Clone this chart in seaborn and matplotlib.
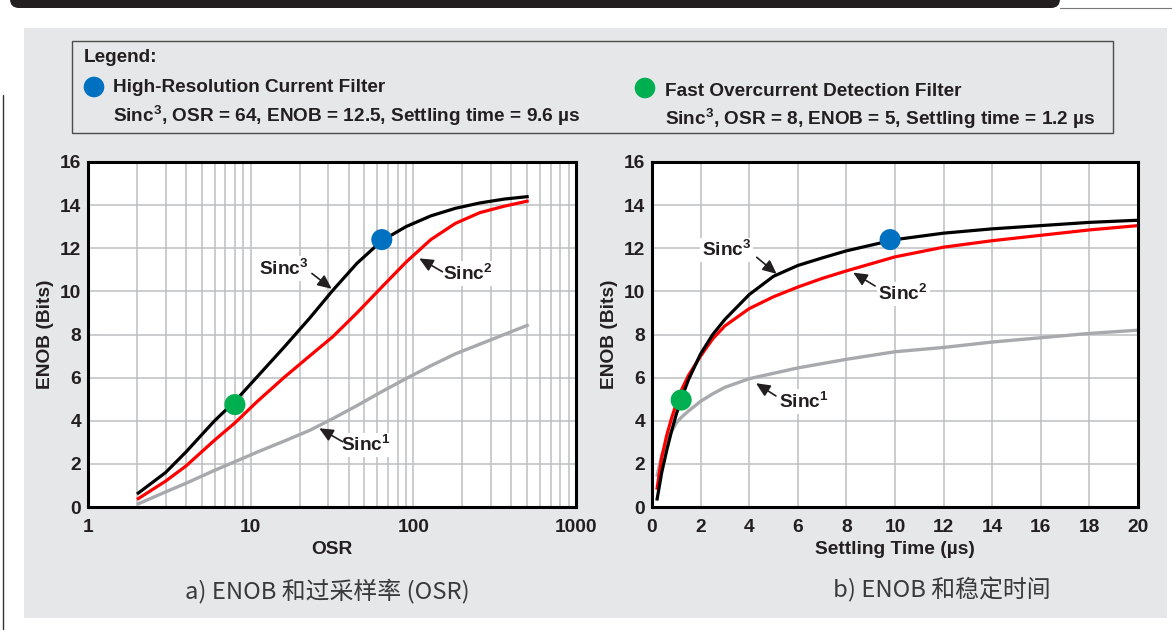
import numpy as np
import pandas as pd
import matplotlib
matplotlib.use("Agg")
import matplotlib.pyplot as plt
from matplotlib.patches import Rectangle, FancyBboxPatch
import seaborn as sns

# ---- data ----
osr = [2, 3, 4, 6, 8, 11, 16, 23, 32, 45, 64, 90, 128, 181, 256, 362, 512]
osr_sinc3 = [0.6, 1.6, 2.55, 4.0, 4.9, 6.05, 7.4, 8.75, 10.05, 11.3, 12.35, 13.0, 13.5, 13.85, 14.1, 14.28, 14.4]
osr_sinc2 = [0.35, 1.2, 1.9, 3.1, 3.9, 4.9, 6.0, 7.0, 7.9, 9.0, 10.2, 11.35, 12.4, 13.15, 13.65, 13.95, 14.2]
osr_sinc1 = [0.12, 0.7, 1.1, 1.7, 2.1, 2.55, 3.05, 3.55, 4.1, 4.7, 5.35, 5.95, 6.55, 7.1, 7.55, 8.0, 8.45]

t_settle = [0.2, 0.4, 0.6, 0.8, 1.0, 1.2, 1.5, 2, 2.5, 3, 4, 5, 6, 7, 8, 10, 12, 14, 16, 18, 20]
t_sinc3 = [0.3, 1.6, 2.6, 3.5, 4.3, 5.0, 5.9, 7.1, 8.0, 8.7, 9.85, 10.7, 11.2, 11.55, 11.88, 12.4, 12.7, 12.9, 13.05, 13.2, 13.3]
t_sinc2 = [0.8, 2.3, 3.3, 4.1, 4.8, 5.4, 6.1, 7.0, 7.8, 8.4, 9.2, 9.75, 10.2, 10.6, 10.95, 11.6, 12.05, 12.35, 12.6, 12.85, 13.05]
t_sinc1 = [1.4, 2.4, 3.0, 3.5, 3.9, 4.15, 4.45, 4.9, 5.25, 5.55, 5.95, 6.2, 6.45, 6.65, 6.85, 7.2, 7.4, 7.65, 7.85, 8.05, 8.2]

# operating points (blue = high-res, green = fast overcurrent)
osr_points = [64, 8]
osr_points_enob = [12.4, 4.75]
t_points = [9.8, 1.2]
t_points_enob = [12.4, 4.96]
point_colors = ["#0070c0", "#00b050"]

W, H = 1172, 630
PANEL = "#e6e7e8"
INK = "#231f20"
GRID = "#bcbec0"
FS = 13.8

sns.set_theme(style="white")
plt.rcParams["font.family"] = ["Liberation Sans", "DejaVu Sans"]
plt.rcParams["mathtext.fontset"] = "custom"
plt.rcParams["mathtext.rm"] = "Liberation Sans"
plt.rcParams["mathtext.bf"] = "Liberation Sans:bold"

fig = plt.figure(figsize=(W / 100, H / 100), dpi=100)
fig.patch.set_facecolor("white")

# background drawing layer in pixel coordinates
bg = fig.add_axes([0, 0, 1, 1], zorder=-1)
bg.set_xlim(0, W)
bg.set_ylim(H, 0)
bg.axis("off")
bg.add_patch(FancyBboxPatch((10, -30), 1050, 38, boxstyle="round,pad=0,rounding_size=9",
                            facecolor=INK, edgecolor="none"))
bg.plot([1060, W], [7.5, 7.5], color="#777777", lw=0.8)
bg.plot([3, 3], [95, H], color="#333333", lw=1)
bg.add_patch(Rectangle((24, 28), 1143, 590, facecolor=PANEL, edgecolor="none"))
bg.add_patch(Rectangle((72, 41), 1041, 92, facecolor="none", edgecolor="#4d4d4d", lw=1))

legend_font = dict(fontsize=13.7, fontweight="bold", color=INK, va="center", ha="left")
bg.text(84, 57, "Legend:", **legend_font)
bg.scatter([94], [87], s=220, color=point_colors[0], edgecolor="none")
bg.text(113, 88, "High-Resolution Current Filter", **legend_font)
bg.text(113, 116, r"Sinc$^{\mathbf{3}}$, OSR = 64, ENOB = 12.5, Settling time = 9.6 µs", **legend_font)
bg.scatter([645], [88], s=220, color=point_colors[1], edgecolor="none")
bg.text(665, 92, "Fast Overcurrent Detection Filter", **legend_font)
bg.text(665, 119, r"Sinc$^{\mathbf{3}}$, OSR = 8, ENOB = 5, Settling time = 1.2 µs", **legend_font)

caption_font = dict(fontsize=17.2, color="#3a3a3a", ha="center", va="center",
                    family=["Noto Sans CJK SC", "DejaVu Sans"])
bg.text(327, 591, "a) ENOB 和过采样率 (OSR)", **caption_font)
bg.text(942, 590, "b) ENOB 和稳定时间", **caption_font)

bottom = (H - 507) / H
height = (507 - 162) / H
ax1 = fig.add_axes([88 / W, bottom, (576 - 88) / W, height])
ax2 = fig.add_axes([652 / W, bottom, (1138 - 652) / W, height])


def style_axes(ax):
    ax.set_facecolor("white")
    for sp in ax.spines.values():
        sp.set_color("black")
        sp.set_linewidth(2.2)
        sp.set_zorder(5)
    ax.tick_params(axis="both", which="both", length=0, labelsize=FS, colors=INK)
    ax.tick_params(axis="x", pad=9)
    ax.tick_params(axis="y", pad=5)
    for lab in ax.get_xticklabels() + ax.get_yticklabels():
        lab.set_fontweight("bold")
    ax.set_ylim(0, 16)
    ax.set_yticks(range(0, 17, 2))
    ax.set_ylabel("ENOB (Bits)", fontsize=FS, fontweight="bold", color=INK, labelpad=4)


def draw_curves(ax, x, s3, s2, s1):
    df = pd.DataFrame({"x": x, "Sinc1": s1, "Sinc2": s2, "Sinc3": s3})
    kw = dict(ax=ax, estimator=None, solid_joinstyle="round", solid_capstyle="butt")
    sns.lineplot(data=df, x="x", y="Sinc1", color="#a7a9ac", lw=2.4, **kw)
    sns.lineplot(data=df, x="x", y="Sinc2", color="#ff0000", lw=2.3, **kw)
    sns.lineplot(data=df, x="x", y="Sinc3", color="black", lw=2.3, **kw)


arrow = dict(arrowstyle="-|>,head_length=0.7,head_width=0.32", color=INK, lw=1.2,
             shrinkA=0, shrinkB=0)
note_font = dict(fontsize=FS, fontweight="bold", color=INK, ha="center", va="center",
                 bbox=dict(boxstyle="square,pad=0.1", facecolor="white", edgecolor="none"))
S1 = r"Sinc$^{\mathbf{1}}$"
S2 = r"Sinc$^{\mathbf{2}}$"
S3 = r"Sinc$^{\mathbf{3}}$"

# ---- left: ENOB vs OSR ----
ax1.set_xscale("log")
draw_curves(ax1, osr, osr_sinc3, osr_sinc2, osr_sinc1)
sns.scatterplot(x=osr_points, y=osr_points_enob, ax=ax1, hue=[0, 1], palette=point_colors,
                s=230, edgecolor="none", legend=False, zorder=6)
ax1.set_xlim(1, 1000)
ax1.set_xticks([1, 10, 100, 1000], labels=["1", "10", "100", "1000"])
ax1.grid(True, which="both", axis="x", color=GRID, lw=1.1)
ax1.grid(True, which="major", axis="y", color=GRID, lw=1.1)
ax1.set_xlabel("OSR", fontsize=FS, fontweight="bold", color=INK, labelpad=3)
style_axes(ax1)
ax1.annotate("", xy=(31.5, 10.12), xytext=(23.8, 10.83), arrowprops=arrow, zorder=7)
ax1.text(15.9, 11.05, S3, **note_font)
ax1.annotate("", xy=(108.7, 11.53), xytext=(151, 10.91), arrowprops=arrow, zorder=7)
ax1.text(215, 10.84, S2, **note_font)
ax1.annotate("", xy=(26.4, 3.65), xytext=(36.7, 3.03), arrowprops=arrow, zorder=7)
ax1.text(50.9, 2.88, S1, **note_font)

# ---- right: ENOB vs settling time ----
draw_curves(ax2, t_settle, t_sinc3, t_sinc2, t_sinc1)
sns.scatterplot(x=t_points, y=t_points_enob, ax=ax2, hue=[0, 1], palette=point_colors,
                s=230, edgecolor="none", legend=False, zorder=6)
ax2.set_xlim(0, 20)
ax2.set_xticks(range(0, 21, 2))
ax2.grid(True, which="major", color=GRID, lw=1.1)
ax2.set_xlabel("Settling Time (µs)", fontsize=FS, fontweight="bold", color=INK, labelpad=3)
style_axes(ax2)
ax2.annotate("", xy=(5.13, 10.81), xytext=(4.31, 11.58), arrowprops=arrow, zorder=7)
ax2.text(3.07, 11.92, S3, **note_font)
ax2.annotate("", xy=(8.28, 10.87), xytext=(9.18, 10.25), arrowprops=arrow, zorder=7)
ax2.text(10.34, 9.88, S2, **note_font)
ax2.annotate("", xy=(4.28, 5.74), xytext=(5.10, 5.15), arrowprops=arrow, zorder=7)
ax2.text(6.23, 4.88, S1, **note_font)

for ax in (ax1, ax2):
    ax.set_axisbelow(True)

fig.savefig("out.png", dpi=100)
